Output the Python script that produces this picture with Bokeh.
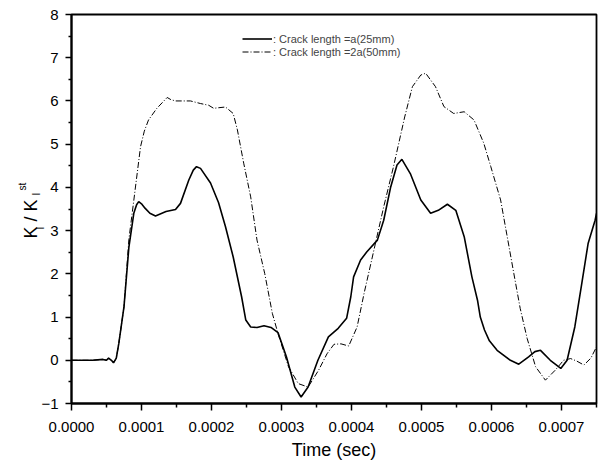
from bokeh.plotting import figure
from bokeh.models import FixedTicker, PrintfTickFormatter, Range1d, Title, Legend, LegendItem
from bokeh.embed import file_html
from bokeh.resources import INLINE

# ---- data (time in seconds, K_I / K_I^st) ----
t_a = [0.0, 0.3e-4, 0.45e-4, 0.5e-4, 0.53e-4, 0.57e-4, 0.60e-4, 0.64e-4, 0.676e-4, 0.75e-4,
       0.82e-4, 0.89e-4, 0.93e-4, 0.96e-4, 1.0e-4, 1.05e-4, 1.12e-4, 1.2e-4, 1.35e-4, 1.486e-4, 1.557e-4, 1.676e-4,
       1.74e-4, 1.786e-4, 1.843e-4, 1.986e-4, 2.1e-4, 2.2e-4, 2.31e-4, 2.43e-4, 2.49e-4, 2.56e-4, 2.65e-4, 2.75e-4,
       2.85e-4, 2.95e-4, 3.07e-4, 3.19e-4, 3.28e-4, 3.38e-4, 3.52e-4, 3.67e-4, 3.81e-4, 3.93e-4,
       3.99e-4, 4.03e-4, 4.13e-4, 4.22e-4, 4.37e-4, 4.46e-4, 4.56e-4, 4.65e-4, 4.72e-4, 4.84e-4,
       4.99e-4, 5.13e-4, 5.24e-4, 5.37e-4, 5.49e-4, 5.61e-4, 5.72e-4, 5.80e-4, 5.84e-4, 5.90e-4,
       5.97e-4, 6.08e-4, 6.27e-4, 6.39e-4, 6.53e-4, 6.62e-4, 6.70e-4, 6.84e-4, 6.99e-4, 7.08e-4,
       7.19e-4, 7.29e-4, 7.38e-4, 7.48e-4, 7.5e-4]
k_a = [0.0, 0.0, 0.02, 0.0, 0.05, 0.0, -0.06, 0.05, 0.39, 1.24,
       2.62, 3.40, 3.60, 3.67, 3.62, 3.52, 3.40, 3.34, 3.44, 3.49, 3.63, 4.17,
       4.40, 4.48, 4.44, 4.10, 3.65, 3.09, 2.39, 1.47, 0.93, 0.77, 0.76, 0.80,
       0.76, 0.64, 0.08, -0.62, -0.85, -0.62, 0.00, 0.54, 0.74, 0.97,
       1.47, 1.93, 2.32, 2.51, 2.78, 3.24, 4.01, 4.52, 4.65, 4.32,
       3.71, 3.40, 3.47, 3.61, 3.47, 2.86, 1.93, 1.39, 1.00, 0.70,
       0.45, 0.23, 0.00, -0.09, 0.08, 0.20, 0.23, 0.00, -0.19, 0.00,
       0.77, 1.78, 2.70, 3.24, 3.40]

t_2a = [0.0, 0.3e-4, 0.45e-4, 0.5e-4, 0.53e-4, 0.57e-4, 0.60e-4, 0.64e-4, 0.676e-4, 0.75e-4,
        0.82e-4, 0.89e-4, 0.986e-4, 1.04e-4, 1.10e-4, 1.22e-4, 1.367e-4, 1.42e-4, 1.486e-4, 1.70e-4,
        1.843e-4, 1.96e-4, 2.03e-4, 2.2e-4, 2.31e-4, 2.37e-4, 2.46e-4, 2.56e-4, 2.65e-4, 2.76e-4,
        2.87e-4, 2.95e-4, 3.10e-4, 3.24e-4, 3.38e-4, 3.53e-4, 3.65e-4, 3.75e-4, 3.85e-4, 3.96e-4,
        4.08e-4, 4.18e-4, 4.33e-4, 4.46e-4, 4.60e-4, 4.76e-4, 4.87e-4, 4.99e-4, 5.06e-4, 5.20e-4,
        5.32e-4, 5.46e-4, 5.61e-4, 5.75e-4, 5.89e-4, 5.99e-4, 6.13e-4, 6.22e-4, 6.32e-4, 6.41e-4,
        6.51e-4, 6.63e-4, 6.77e-4, 6.91e-4, 7.03e-4, 7.13e-4, 7.22e-4, 7.32e-4, 7.42e-4, 7.5e-4]
k_2a = [0.0, 0.0, 0.02, 0.0, 0.05, 0.0, -0.06, 0.05, 0.39, 1.24,
        2.80, 3.70, 4.94, 5.30, 5.56, 5.83, 6.08, 6.03, 6.00, 6.00,
        5.94, 5.90, 5.83, 5.86, 5.71, 5.33, 4.56, 3.78, 2.78, 2.01,
        1.08, 0.62, -0.15, -0.54, -0.62, -0.23, 0.15, 0.37, 0.38, 0.33,
        0.77, 1.55, 2.62, 3.55, 4.48, 5.63, 6.33, 6.60, 6.64, 6.33,
        5.87, 5.71, 5.75, 5.56, 5.02, 4.48, 3.71, 2.90, 2.00, 1.20,
        0.50, -0.15, -0.46, -0.23, 0.00, 0.04, -0.02, -0.11, 0.05, 0.31]

x_ticks = [0.0, 0.0001, 0.0002, 0.0003, 0.0004, 0.0005, 0.0006, 0.0007]
x_minor = [0.00005, 0.00015, 0.00025, 0.00035, 0.00045, 0.00055, 0.00065, 0.00075]
y_ticks = [-1, 0, 1, 2, 3, 4, 5, 6, 7, 8]
y_minor = [-0.5, 0.5, 1.5, 2.5, 3.5, 4.5, 5.5, 6.5, 7.5]
labels = [": Crack length =a(25mm)", ": Crack length =2a(50mm)"]
x_title = "Time (sec)"

FONT = "Liberation Sans"
X0, X1, Y0, Y1 = 0, 0.00075, -1, 8

p = figure(width=605, height=463, output_backend="svg", toolbar_location=None,
           x_range=Range1d(X0, X1), y_range=Range1d(Y0, Y1),
           min_border_left=71, min_border_right=9, min_border_top=14, min_border_bottom=60)
p.xgrid.visible = False
p.ygrid.visible = False
p.outline_line_color = "black"
p.outline_line_width = 1.8
p.background_fill_color = "white"
p.border_fill_color = "white"

r1 = p.line(t_a, k_a, line_color="black", line_width=1.6)
r2 = p.line(t_2a, k_2a, line_color="black", line_width=1.0, line_dash="6 2 1 2")

for ax, ticks, minor in ((p.xaxis[0], x_ticks, x_minor), (p.yaxis[0], y_ticks, y_minor)):
    ax.ticker = FixedTicker(ticks=ticks, minor_ticks=minor)
    ax.axis_line_width = 2
    ax.axis_line_color = "black"
    ax.major_tick_line_width = 1.5
    ax.minor_tick_line_width = 1.5
    ax.major_tick_in = 0
    ax.minor_tick_in = 0
    ax.major_label_text_font = FONT
    ax.major_label_text_font_size = "15px"
    ax.major_label_text_color = "black"

p.xaxis[0].formatter = PrintfTickFormatter(format="%.4f")
p.xaxis[0].major_tick_out = 7
p.xaxis[0].minor_tick_out = 4
p.xaxis[0].major_label_standoff = 11

p.yaxis[0].major_tick_out = 6
p.yaxis[0].minor_tick_out = 3
p.yaxis[0].major_label_standoff = 7
p.yaxis[0].major_label_orientation = "horizontal"

# x-axis title as a Title below the axis (bottom-anchored for precise placement)
p.add_layout(Title(text=x_title, align="center", vertical_align="bottom", standoff=6.5,
                   text_font=FONT, text_font_size="18px", text_font_style="normal",
                   text_color="black"), "below")

# y-axis label K_I / K_I^st built from Title pieces stacked in the left border
# (text, font size, offset along the axis from frame bottom, standoff controlling panel width)
pieces = [
    ("I", "10px", 174, -14.0),
    ("I", "10px", 208, -7.0),
    ("K / K", "18px", 165, -16.8),
    ("st", "10px", 213, 0.0),
]
for txt, fs, off, so in pieces:
    p.add_layout(Title(text=txt, align="left", vertical_align="bottom", offset=off, standoff=so,
                       text_font=FONT, text_font_size=fs, text_font_style="normal",
                       text_color="black"), "left")

legend = Legend(items=[LegendItem(label=labels[0], renderers=[r1]),
                       LegendItem(label=labels[1], renderers=[r2])],
                location=(171, 345), orientation="vertical",
                label_text_font=FONT, label_text_font_size="11px",
                glyph_width=30, glyph_height=13, label_height=13, label_standoff=1,
                spacing=0, padding=0, margin=0, border_line_color=None,
                background_fill_alpha=0)
p.add_layout(legend)

open("out.html", "w").write(file_html(p, INLINE))
